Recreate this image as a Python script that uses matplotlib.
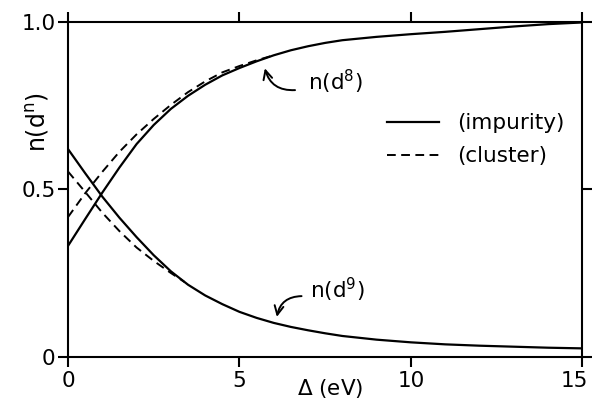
import matplotlib
matplotlib.use("Agg")
import matplotlib.pyplot as plt
from matplotlib.transforms import ScaledTranslation

# occupation numbers vs charge-transfer energy Delta (eV)
delta_imp = [0, 0.5, 1, 1.5, 2, 2.5, 3, 3.5, 4, 4.5, 5, 5.5, 6, 6.5, 7, 7.5, 8, 9, 10, 11, 12, 13, 14, 15]
d8_imp = [0.331, 0.411, 0.49, 0.565, 0.635, 0.692, 0.740, 0.779, 0.812, 0.840, 0.862, 0.882, 0.90,
          0.915, 0.927, 0.937, 0.945, 0.955, 0.963, 0.970, 0.978, 0.986, 0.993, 0.998]
d9_imp = [0.62, 0.548, 0.478, 0.415, 0.357, 0.303, 0.255, 0.215, 0.183, 0.157, 0.134, 0.116, 0.101,
          0.089, 0.079, 0.070, 0.062, 0.051, 0.043, 0.037, 0.033, 0.030, 0.027, 0.025]

delta_clu8 = [0, 0.5, 1, 1.5, 2, 2.5, 3, 3.5, 4, 4.5, 5, 5.5, 6]
d8_clu = [0.417, 0.488, 0.552, 0.612, 0.664, 0.710, 0.752, 0.790, 0.822, 0.849, 0.868, 0.885, 0.90]
delta_clu9 = [0, 0.5, 1, 1.5, 2, 2.5, 3, 3.4]
d9_clu = [0.553, 0.492, 0.43, 0.375, 0.326, 0.286, 0.25, 0.223]

plt.rcParams['font.family'] = ['DejaVu Sans']
plt.rcParams['mathtext.fontset'] = 'dejavusans'
fs = 15.5

fig = plt.figure(figsize=(5.94, 4.11), dpi=100)
ax = fig.add_axes([0.1145, 0.132, 0.866, 0.815])

dash = (0, (4.5, 2.8))
l1, = ax.plot(delta_imp, d8_imp, color='black', lw=1.6)
ax.plot(delta_imp, d9_imp, color='black', lw=1.6)
l2, = ax.plot(delta_clu8, d8_clu, color='black', lw=1.4, ls=dash)
ax.plot(delta_clu9, d9_clu, color='black', lw=1.4, ls=dash)

ax.set_xlim(0, 15)
ax.set_ylim(0, 1.0)
ax.set_xticks([0, 5, 10, 15])
ax.set_yticks([0, 0.5, 1.0])
ax.set_yticklabels(['0', '0.5', '1.0'])
ax.tick_params(direction='out', length=7, width=1.5, labelsize=fs, pad=3,
               top=True, right=True, color='black')
ax.tick_params(axis='y', pad=2)
for s in ax.spines.values():
    s.set_linewidth(1.5)

# pull the last x label ("15") inside the figure, as in the original
fig.canvas.draw()
last = ax.get_xticklabels()[-1]
last.set_transform(last.get_transform() + ScaledTranslation(-6 / 72, 0, fig.dpi_scale_trans))

ax.set_xlabel(r'$\Delta$ (eV)', fontsize=fs)
ax.xaxis.set_label_coords(0.51, -0.06)
ax.set_ylabel(r'n(d$^{\mathrm{n}}$)', fontsize=17)
ax.yaxis.set_label_coords(-0.033, 0.70)

# labels with curved pointer arrows
arrow = dict(arrowstyle='->', color='black', lw=1.4, mutation_scale=16,
             shrinkA=0, shrinkB=0)
ax.text(7.0, 0.795, r'n(d$^{8}$)', fontsize=fs, va='baseline', ha='left')
ax.annotate('', xy=(5.74, 0.861), xytext=(6.62, 0.796),
            arrowprops=dict(arrow, connectionstyle='arc3,rad=-0.4'))
ax.text(7.06, 0.175, r'n(d$^{9}$)', fontsize=fs, va='baseline', ha='left')
ax.annotate('', xy=(6.09, 0.119), xytext=(6.81, 0.181),
            arrowprops=dict(arrow, connectionstyle='arc3,rad=0.4'))

ax.legend([l1, l2], ['(impurity)', '(cluster)'], loc='upper left',
          bbox_to_anchor=(0.62, 0.727), frameon=False, fontsize=fs,
          handlelength=2.4, handletextpad=0.85, borderpad=0, borderaxespad=0,
          labelspacing=0.6)

fig.savefig('out.png', dpi=100)
